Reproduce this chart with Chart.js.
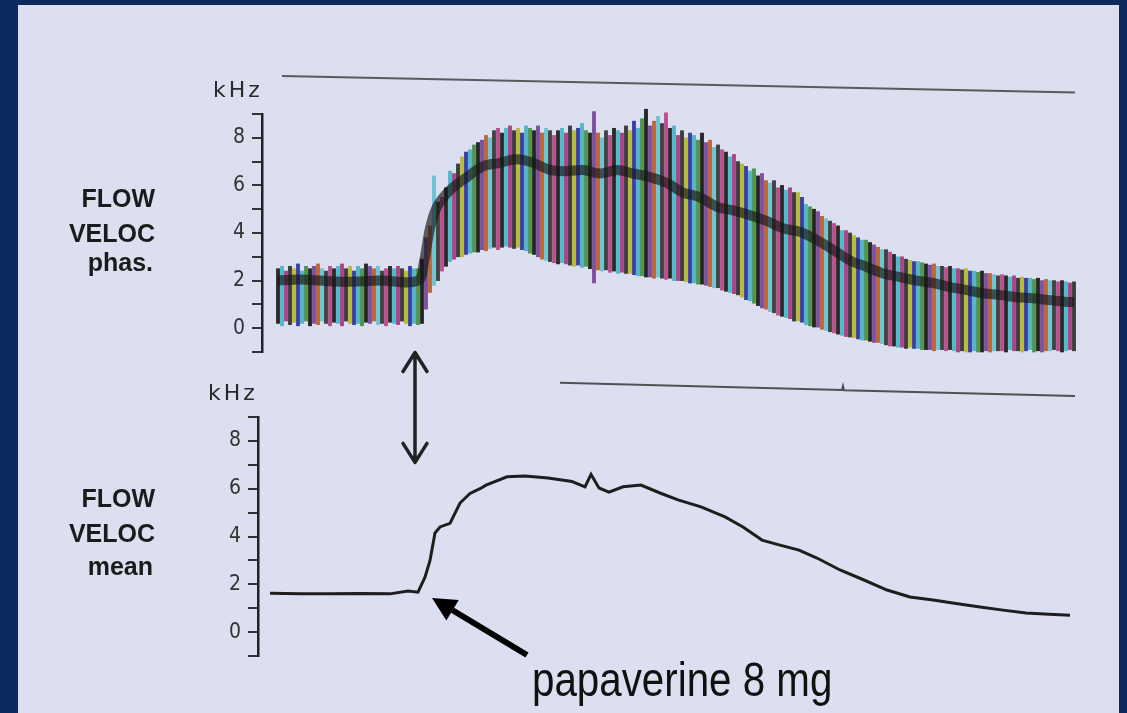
<!DOCTYPE html>
<html>
<head>
<meta charset="utf-8">
<script src="https://cdn.jsdelivr.net/npm/chart.js@4.4.1/dist/chart.umd.min.js"></script>
<style>
  html, body { margin: 0; padding: 0; width: 1127px; height: 713px; overflow: hidden; background: #0d2a5f; }
  #paper { position: absolute; left: 18px; top: 5px; width: 1101px; height: 708px; background: #dcdff0; }
  canvas { position: absolute; left: 0; top: 0; }
  .side { position: absolute; left: 5px; width: 150px; text-align: right; font: bold 25px/25px "Liberation Sans", Arial, sans-serif; color: #1b1b1b; }
  .unit { position: absolute; font: 22px/22px "DejaVu Sans", sans-serif; letter-spacing: 3px; color: #2a2a2a; }
  #dose { position: absolute; left: 532px; top: 656px; font: 48px/48px "Liberation Sans", Arial, sans-serif; color: #111; white-space: nowrap; transform: scaleX(0.84); transform-origin: left top; }
</style>
</head>
<body>
<div id="paper"></div>
<canvas id="phasic" width="1127" height="713"></canvas>
<canvas id="mean" width="1127" height="713"></canvas>

<div class="unit" style="left:213px; top:79px;">kHz</div>
<div class="side" style="top:186px;">FLOW</div>
<div class="side" style="top:221px;">VELOC</div>
<div class="side" style="top:250px; left:3px;">phas.</div>

<div class="unit" style="left:208px; top:382px;">kHz</div>
<div class="side" style="top:486px;">FLOW</div>
<div class="side" style="top:521px;">VELOC</div>
<div class="side" style="top:554px; left:3px;">mean</div>

<div id="dose">papaverine 8 mg</div>

<script>
// kHz tick labels on both axes
const kHzTicks = [0, 2, 4, 6, 8];

// phasic trace: per-beat peak and trough (kHz), one entry per beat
const beatHigh = [
  2.5, 2.6, 2.4, 2.6, 2.5, 2.7, 2.4, 2.6, 2.5, 2.6,
  2.7, 2.5, 2.4, 2.6, 2.5, 2.6, 2.7, 2.5, 2.6, 2.4,
  2.6, 2.5, 2.7, 2.6, 2.5, 2.6, 2.4, 2.5, 2.6, 2.5,
  2.6, 2.5, 2.4, 2.6, 2.5, 2.5, 2.9, 3.8, 4.3, 6.4,
  5.3, 5.5, 5.9, 6.6, 6.5, 6.9, 7.2, 7.4, 7.5, 7.7,
  7.8, 7.9, 8.1, 8.0, 8.3, 8.4, 8.2, 8.4, 8.5, 8.3,
  8.4, 8.2, 8.5, 8.4, 8.3, 8.5, 8.2, 8.4, 8.3, 8.1,
  8.3, 8.4, 8.2, 8.5, 8.3, 8.4, 8.6, 8.3, 8.2, 9.1,
  8.2, 8.0, 8.3, 8.1, 8.4, 8.3, 8.2, 8.5, 8.3, 8.7,
  8.4, 8.8, 9.2, 8.5, 8.7, 8.9, 8.6, 9.05, 8.4, 8.5,
  8.1, 8.3, 8.0, 8.2, 8.1, 7.9, 8.2, 7.8, 7.9, 7.6,
  7.7, 7.5, 7.4, 7.2, 7.3, 7.0, 6.9, 6.8, 6.6, 6.7,
  6.4, 6.5, 6.2, 6.1, 6.2, 5.9, 6.0, 5.8, 5.9, 5.7,
  5.7, 5.5, 5.2, 5.1, 5.0, 4.9, 4.7, 4.6, 4.5, 4.4,
  4.3, 4.1, 4.1, 4.0, 3.9, 3.8, 3.7, 3.7, 3.6, 3.5,
  3.4, 3.3, 3.3, 3.2, 3.1, 3.0, 3.0, 2.9, 2.85, 2.8,
  2.8, 2.75, 2.7, 2.65, 2.7, 2.6, 2.6, 2.55, 2.6, 2.5,
  2.5, 2.45, 2.5, 2.4, 2.4, 2.35, 2.4, 2.3, 2.3, 2.25,
  2.2, 2.25, 2.2, 2.15, 2.2, 2.1, 2.15, 2.1, 2.1, 2.05,
  2.1, 2.0, 2.05, 2.0, 2.0, 1.95, 2.0, 1.95, 1.9, 1.95
];
const beatLow = [
  0.2, 0.1, 0.3, 0.15, 0.25, 0.1, 0.2, 0.3, 0.1, 0.2,
  0.15, 0.3, 0.2, 0.1, 0.25, 0.2, 0.1, 0.3, 0.2, 0.15,
  0.2, 0.1, 0.25, 0.2, 0.3, 0.15, 0.2, 0.1, 0.25, 0.2,
  0.15, 0.3, 0.2, 0.1, 0.2, 0.15, 0.2, 0.8, 1.5, 1.8,
  2.0, 2.4, 2.6, 2.8, 2.9, 3.0, 3.0, 3.1, 3.15, 3.2,
  3.2, 3.3, 3.25, 3.35, 3.4, 3.3, 3.4, 3.45, 3.4, 3.35,
  3.4, 3.3, 3.25, 3.15, 3.1, 3.0, 2.9, 2.85, 2.8, 2.75,
  2.7, 2.75, 2.7, 2.65, 2.6, 2.65, 2.55, 2.6, 2.5, 1.9,
  2.45, 2.4, 2.45, 2.35, 2.4, 2.3, 2.35, 2.3, 2.3, 2.25,
  2.2, 2.2, 2.15, 2.15, 2.1, 2.15, 2.1, 2.05, 2.1, 2.0,
  2.0, 2.0, 1.95, 1.9, 1.9, 1.85, 1.85, 1.8, 1.75, 1.7,
  1.7, 1.6, 1.55, 1.5, 1.45, 1.4, 1.3, 1.2, 1.15, 1.05,
  0.95, 0.85, 0.8, 0.7, 0.65, 0.55, 0.5, 0.45, 0.4, 0.3,
  0.3, 0.25, 0.15, 0.1, 0.05, 0.0, -0.05, -0.1, -0.15, -0.2,
  -0.25, -0.3, -0.35, -0.37, -0.4, -0.45, -0.5, -0.5, -0.55, -0.6,
  -0.6, -0.65, -0.7, -0.75, -0.75, -0.8, -0.8, -0.85, -0.8, -0.85,
  -0.85, -0.9, -0.9, -0.9, -0.95, -0.9, -0.9, -0.95, -0.9, -0.95,
  -1.0, -0.95, -1.0, -1.0, -0.95, -1.0, -1.0, -0.95, -1.0, -0.95,
  -0.95, -0.95, -1.0, -0.9, -0.95, -0.95, -1.0, -0.95, -0.9, -1.0,
  -0.95, -1.0, -0.95, -0.95, -0.9, -0.95, -1.0, -0.95, -0.9, -0.95
];

// dark mean band running through the phasic trace (time in beats, kHz)
const phasMeanT = [0, 5.5, 15.5, 25.5, 35, 36.5, 38, 39.75, 43, 47.25,
  51.25, 55.5, 59.75, 63.75, 68, 72.25, 76.25, 80.5, 84.75, 88.75,
  93, 97.25, 101.25, 105.5, 109.75, 113.75, 118, 122.25, 126.25, 130.5,
  134.75, 138.75, 143, 147.25, 151.25, 155.5, 159.75, 163.75, 168, 172.25,
  176.25, 180.5, 184.75, 188.75, 193, 197.25, 199];
const phasMeanV = [2.0, 2.05, 1.95, 2.0, 2.0, 2.8, 4.2, 5.1, 5.8, 6.35,
  6.8, 6.95, 7.1, 6.95, 6.65, 6.6, 6.65, 6.5, 6.65, 6.5,
  6.35, 6.1, 5.7, 5.5, 5.1, 4.95, 4.75, 4.5, 4.2, 4.05,
  3.7, 3.3, 2.85, 2.57, 2.3, 2.15, 2.0, 1.9, 1.73, 1.6,
  1.47, 1.4, 1.3, 1.26, 1.18, 1.1, 1.1];

// mean flow velocity trace (time in beats, kHz)
const meanT = [-2, 5.5, 13, 20.5, 28, 32.5, 35, 36.75, 38, 39.25,
  40.5, 43, 45.5, 48, 50.5, 52, 57.25, 61.75, 67.5, 73.5,
  76.75, 78.25, 80.25, 82.75, 86.25, 90.75, 95.5, 100, 105.75, 111.75,
  116.25, 121, 125.5, 130.25, 134.75, 140.5, 146.5, 152.25, 158, 163.75,
  169.5, 175.5, 181.25, 187, 192.75, 198];
const meanV = [1.63, 1.6, 1.6, 1.62, 1.6, 1.72, 1.67, 2.3, 3.0, 4.15,
  4.4, 4.55, 5.4, 5.8, 6.0, 6.15, 6.5, 6.53, 6.45, 6.3,
  6.08, 6.6, 6.03, 5.86, 6.08, 6.15, 5.82, 5.53, 5.24, 4.82,
  4.4, 3.85, 3.64, 3.43, 3.1, 2.6, 2.18, 1.76, 1.47, 1.34,
  1.2, 1.05, 0.92, 0.8, 0.75, 0.71];

// recorder marker lines above each trace
const markTopT = [1, 199.25];
const markTopV = [10.6, 9.9];
const markBotT = [70.5, 141, 141.25, 141.5, 199.25];
const markBotV = [10.43, 10.13, 10.3, 10.12, 9.88];

// annotations (bottom chart units)
const doubleArrow = { t: 34.25, from: 11.7, to: 7.1 };
const doseArrow = { t: 38.5, v: 1.43, tailT: 62.25, tailV: -0.96 };

// chromatic scan colours of the individual beat strokes
const inkColors = ['#2a2a2a', '#4fb8cc', '#a8447f', '#3c3c3c', '#b9b93e', '#3541a6',
  '#55b3c4', '#4f944e', '#262626', '#7d4f9c', '#b8673a', '#6cc3d4', '#404040', '#b8508e'];

const pts = (ts, vs) => ts.map((t, i) => ({ x: t, y: vs[i] }));

function traceOptions(padding, xMin) {
  return {
    responsive: false,
    animation: false,
    events: [],
    layout: { padding: padding },
    plugins: { legend: { display: false }, tooltip: { enabled: false } },
    scales: {
      x: { type: 'linear', min: xMin, max: 206, display: false, offset: false },
      y: {
        min: -1, max: 9,
        afterFit: s => { s.width = 60; },
        border: { display: true, color: '#222', width: 2.5 },
        grid: { drawOnChartArea: false, drawTicks: true, tickLength: 10, color: '#333', lineWidth: 2 },
        ticks: {
          stepSize: 1, autoSkip: false, padding: 7, color: '#333',
          font: { family: '"DejaVu Sans Condensed", "DejaVu Sans", sans-serif', size: 21 },
          callback: v => kHzTicks.includes(v) ? String(v) : ''
        }
      }
    }
  };
}

// Phasic flow velocity
new Chart(document.getElementById('phasic'), {
  type: 'bar',
  data: {
    datasets: [
      {
        type: 'line',
        data: pts(phasMeanT, phasMeanV),
        borderColor: 'rgba(22,22,22,0.66)',
        borderWidth: 10,
        pointRadius: 0,
        tension: 0.35,
        order: 0
      },
      {
        type: 'bar',
        data: beatLow.map((lo, i) => ({ x: i, y: [lo, beatHigh[i]] })),
        backgroundColor: ctx => inkColors[ctx.dataIndex % inkColors.length],
        barThickness: 3.2,
        clip: false,
        order: 1
      },
      {
        type: 'line',
        data: pts(markTopT, markTopV),
        borderColor: 'rgba(45,45,45,0.75)',
        borderWidth: 2,
        pointRadius: 0,
        clip: false,
        order: 2
      }
    ]
  },
  options: traceOptions({ left: 202, top: 114, right: 25, bottom: 361 }, -4)
});

// arrows drawn on top of the mean chart
const annotate = {
  id: 'annotate',
  afterDatasetsDraw(chart) {
    const { ctx, scales: { x, y } } = chart;
    ctx.save();

    // double arrow linking the two traces
    const ax = x.getPixelForValue(doubleArrow.t);
    const a1 = y.getPixelForValue(doubleArrow.from);
    const a2 = y.getPixelForValue(doubleArrow.to);
    ctx.strokeStyle = '#222';
    ctx.lineWidth = 3.5;
    ctx.lineCap = 'round';
    ctx.lineJoin = 'round';
    ctx.beginPath();
    ctx.moveTo(ax, a1); ctx.lineTo(ax, a2);
    ctx.moveTo(ax - 12, a1 + 19); ctx.lineTo(ax, a1); ctx.lineTo(ax + 12, a1 + 19);
    ctx.moveTo(ax - 12, a2 - 19); ctx.lineTo(ax, a2); ctx.lineTo(ax + 12, a2 - 19);
    ctx.stroke();

    // injection arrow
    const tx = x.getPixelForValue(doseArrow.t), ty = y.getPixelForValue(doseArrow.v);
    const sx = x.getPixelForValue(doseArrow.tailT), sy = y.getPixelForValue(doseArrow.tailV);
    const ang = Math.atan2(ty - sy, tx - sx);
    const head = 24, half = 12;
    const bx = tx - head * Math.cos(ang), by = ty - head * Math.sin(ang);
    ctx.strokeStyle = '#000';
    ctx.lineWidth = 6;
    ctx.lineCap = 'butt';
    ctx.beginPath();
    ctx.moveTo(sx, sy); ctx.lineTo(bx, by);
    ctx.stroke();
    ctx.fillStyle = '#000';
    ctx.beginPath();
    ctx.moveTo(tx, ty);
    ctx.lineTo(bx + half * Math.sin(ang), by - half * Math.cos(ang));
    ctx.lineTo(bx - half * Math.sin(ang), by + half * Math.cos(ang));
    ctx.closePath();
    ctx.fill();
    ctx.restore();
  }
};

// Mean flow velocity
new Chart(document.getElementById('mean'), {
  type: 'line',
  data: {
    datasets: [
      {
        data: pts(meanT, meanV),
        borderColor: '#1e1e1e',
        borderWidth: 3,
        pointRadius: 0,
        tension: 0
      },
      {
        data: pts(markBotT, markBotV),
        borderColor: 'rgba(45,45,45,0.8)',
        borderWidth: 2,
        pointRadius: 0,
        clip: false
      }
    ]
  },
  options: traceOptions({ left: 198, top: 417, right: 25, bottom: 57 }, -5),
  plugins: [annotate]
});
</script>
</body>
</html>
